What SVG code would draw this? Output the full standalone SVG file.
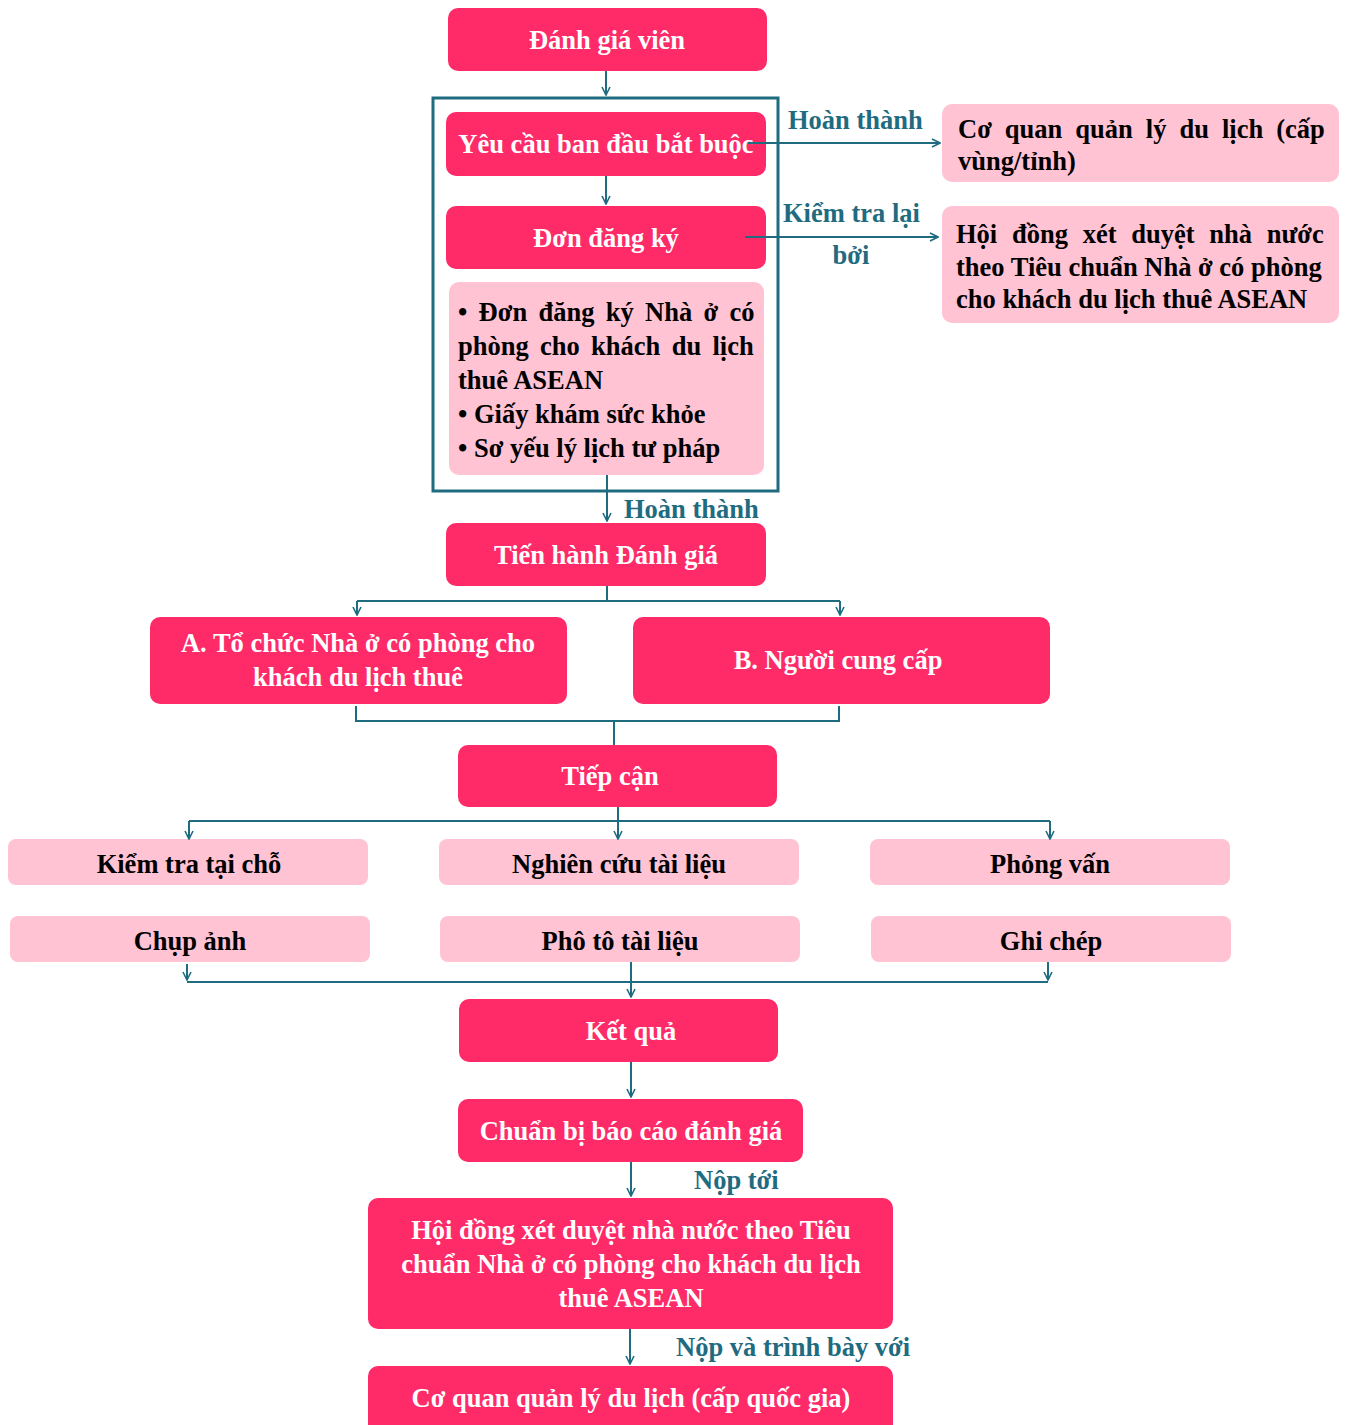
<svg xmlns="http://www.w3.org/2000/svg" width="1347" height="1425" viewBox="0 0 1347 1425">
  <defs>
    <marker id="arr" viewBox="0 0 10 10" refX="9" refY="5" markerWidth="10" markerHeight="10" markerUnits="userSpaceOnUse" orient="auto">
      <path d="M1,1 L9,5 L1,9" fill="none" stroke="#1F6B80" stroke-width="1.6"/>
    </marker>
    <style>
      .hot { fill: #FF2A68; }
      .soft { fill: #FFC3D3; }
      .wt { fill: #ffffff; font-family: "Liberation Serif", "Times New Roman", serif; font-weight: bold; font-size: 26.5px; text-anchor: middle; }
      .bk { fill: #000000; font-family: "Liberation Serif", "Times New Roman", serif; font-weight: bold; font-size: 26.5px; }
      .bkc { fill: #000000; font-family: "Liberation Serif", "Times New Roman", serif; font-weight: bold; font-size: 26.5px; text-anchor: middle; }
      .lbl { fill: #1F6B80; font-family: "Liberation Serif", "Times New Roman", serif; font-weight: bold; font-size: 26.5px; }
      .ln { fill: none; stroke: #1F6B80; stroke-width: 2; }
      .ar { fill: none; stroke: #1F6B80; stroke-width: 2; marker-end: url(#arr); }
    </style>
  </defs>
  <rect width="1347" height="1425" fill="#ffffff"/>

  <!-- frame around the initial requirements -->
  <rect x="433" y="98" width="345" height="393" fill="none" stroke="#1F6B80" stroke-width="3"/>

  <g id="labels">
    <text class="lbl" x="788" y="129">Hoàn thành</text>
    <text class="lbl" x="783" y="222">Kiểm tra lại</text>
    <text class="lbl" x="851" y="264" text-anchor="middle">bởi</text>
    <text class="lbl" x="624" y="518">Hoàn thành</text>
    <text class="lbl" x="694" y="1189">Nộp tới</text>
    <text class="lbl" x="676" y="1356">Nộp và trình bày với</text>
  </g>

  <g id="n-danh-gia-vien">
    <rect class="hot" x="448" y="8" width="319" height="63" rx="10"/>
    <text class="wt" x="607" y="49">Đánh giá viên</text>
  </g>

  <g id="n-yeu-cau">
    <rect class="hot" x="446" y="112" width="320" height="64" rx="10"/>
    <text class="wt" x="606" y="153">Yêu cầu ban đầu bắt buộc</text>
  </g>

  <g id="n-don-dang-ky">
    <rect class="hot" x="446" y="206" width="320" height="63" rx="10"/>
    <text class="wt" x="606" y="247">Đơn đăng ký</text>
  </g>

  <g id="n-ho-so">
    <rect class="soft" x="449" y="282" width="315" height="193" rx="10"/>
    <text class="bk" x="458" y="321" word-spacing="4.7">• Đơn đăng ký Nhà ở có</text>
    <text class="bk" x="458" y="355" word-spacing="4.7">phòng cho khách du lịch</text>
    <text class="bk" x="458" y="389">thuê ASEAN</text>
    <text class="bk" x="458" y="423">• Giấy khám sức khỏe</text>
    <text class="bk" x="458" y="457">• Sơ yếu lý lịch tư pháp</text>
  </g>

  <g id="n-co-quan-vung">
    <rect class="soft" x="942" y="104" width="397" height="78" rx="10"/>
    <text class="bk" x="958" y="138" word-spacing="6.4">Cơ quan quản lý du lịch (cấp</text>
    <text class="bk" x="958" y="170">vùng/tỉnh)</text>
  </g>

  <g id="n-hoi-dong-phai">
    <rect class="soft" x="942" y="206" width="397" height="117" rx="10"/>
    <text class="bk" x="956" y="243" word-spacing="8.1">Hội đồng xét duyệt nhà nước</text>
    <text class="bk" x="956" y="276">theo Tiêu chuẩn Nhà ở có phòng</text>
    <text class="bk" x="956" y="308">cho khách du lịch thuê ASEAN</text>
  </g>

  <g id="n-tien-hanh">
    <rect class="hot" x="446" y="523" width="320" height="63" rx="10"/>
    <text class="wt" x="606" y="564">Tiến hành Đánh giá</text>
  </g>

  <g id="n-a">
    <rect class="hot" x="150" y="617" width="417" height="87" rx="10"/>
    <text class="wt" x="358" y="652">A. Tổ chức Nhà ở có phòng cho</text>
    <text class="wt" x="358" y="686">khách du lịch thuê</text>
  </g>

  <g id="n-b">
    <rect class="hot" x="633" y="617" width="417" height="87" rx="10"/>
    <text class="wt" x="838" y="669">B. Người cung cấp</text>
  </g>

  <g id="n-tiep-can">
    <rect class="hot" x="458" y="745" width="319" height="62" rx="10"/>
    <text class="wt" x="610" y="785">Tiếp cận</text>
  </g>

  <g id="n-kiem-tra">
    <rect class="soft" x="8" y="839" width="360" height="46" rx="8"/>
    <text class="bkc" x="189" y="873">Kiểm tra tại chỗ</text>
  </g>
  <g id="n-nghien-cuu">
    <rect class="soft" x="439" y="839" width="360" height="46" rx="8"/>
    <text class="bkc" x="619" y="873">Nghiên cứu tài liệu</text>
  </g>
  <g id="n-phong-van">
    <rect class="soft" x="870" y="839" width="360" height="46" rx="8"/>
    <text class="bkc" x="1050" y="873">Phỏng vấn</text>
  </g>
  <g id="n-chup-anh">
    <rect class="soft" x="10" y="916" width="360" height="46" rx="8"/>
    <text class="bkc" x="190" y="950">Chụp ảnh</text>
  </g>
  <g id="n-pho-to">
    <rect class="soft" x="440" y="916" width="360" height="46" rx="8"/>
    <text class="bkc" x="620" y="950">Phô tô tài liệu</text>
  </g>
  <g id="n-ghi-chep">
    <rect class="soft" x="871" y="916" width="360" height="46" rx="8"/>
    <text class="bkc" x="1051" y="950">Ghi chép</text>
  </g>

  <g id="n-ket-qua">
    <rect class="hot" x="459" y="999" width="319" height="63" rx="10"/>
    <text class="wt" x="631" y="1040">Kết quả</text>
  </g>

  <g id="n-chuan-bi">
    <rect class="hot" x="458" y="1099" width="345" height="63" rx="10"/>
    <text class="wt" x="631" y="1140">Chuẩn bị báo cáo đánh giá</text>
  </g>

  <g id="n-hoi-dong">
    <rect class="hot" x="368" y="1198" width="525" height="131" rx="10"/>
    <text class="wt" x="631" y="1239">Hội đồng xét duyệt nhà nước theo Tiêu</text>
    <text class="wt" x="631" y="1273">chuẩn Nhà ở có phòng cho khách du lịch</text>
    <text class="wt" x="631" y="1307">thuê ASEAN</text>
  </g>

  <g id="n-co-quan-quoc-gia">
    <rect class="hot" x="368" y="1366" width="525" height="70" rx="10"/>
    <text class="wt" x="631" y="1407">Cơ quan quản lý du lịch (cấp quốc gia)</text>
  </g>

  <!-- connectors drawn last so they sit on top of the boxes -->
  <g id="connectors">
    <path class="ar" d="M606,71 V95"/>
    <path class="ar" d="M606,176 V204"/>
    <path class="ar" d="M748,143 H940"/>
    <path class="ar" d="M745,237 H938"/>
    <path class="ar" d="M607,475 V521"/>
    <!-- split to A / B -->
    <path class="ln" d="M607,586 V601 M357,601 H840"/>
    <path class="ar" d="M357,601 V615"/>
    <path class="ar" d="M840,601 V615"/>
    <!-- merge A / B -->
    <path class="ln" d="M356,706 V721 H839 V706 M614,721 V745"/>
    <!-- split to methods -->
    <path class="ln" d="M618,807 V821 M189,821 H1050"/>
    <path class="ar" d="M189,821 V839"/>
    <path class="ar" d="M618,821 V839"/>
    <path class="ar" d="M1050,821 V839"/>
    <!-- merge methods -->
    <path class="ar" d="M187,964 V980"/>
    <path class="ar" d="M1048,962 V980"/>
    <path class="ln" d="M187,982 H1048"/>
    <path class="ar" d="M631,962 V997"/>
    <path class="ar" d="M631,1062 V1097"/>
    <path class="ar" d="M631,1162 V1196"/>
    <path class="ar" d="M630,1329 V1364"/>
  </g>
</svg>
